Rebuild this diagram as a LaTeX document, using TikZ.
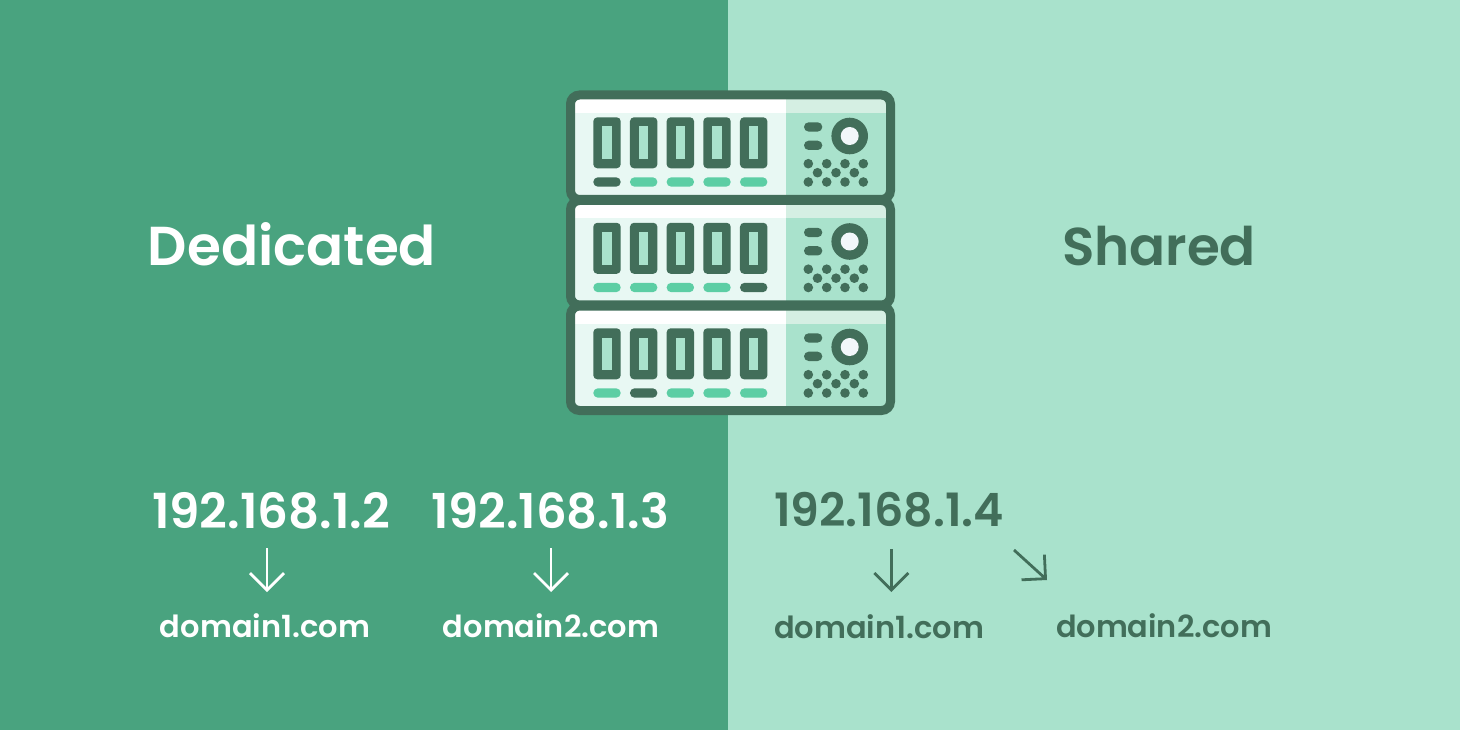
\documentclass[tikz,border=0pt]{standalone}
\usepackage{fontspec}
\usetikzlibrary{arrows.meta}
\setmainfont{Poppins}[UprightFont={* Medium},BoldFont={* SemiBold}]
\definecolor{leftbg}{HTML}{49A37F}
\definecolor{rightbg}{HTML}{A9E2CC}
\definecolor{ink}{HTML}{426E5A}
\definecolor{led}{HTML}{5CCEA4}
\definecolor{paneA}{HTML}{E8F8F3}
\definecolor{paneB}{HTML}{D5EFE3}
\definecolor{hole}{HTML}{F2F7FA}
\newcommand{\fitw}[2]{\resizebox{#1pt}{!}{#2}}
\tikzset{
  x=1pt,y=-1pt,
  lbl/.style={anchor=base,inner sep=0pt,outer sep=0pt},
  title/.style={lbl,font=\bfseries\fontsize{60}{60}\selectfont},
  ip/.style={lbl,font=\bfseries\fontsize{44}{44}\selectfont},
  dom/.style={lbl,font=\bfseries\fontsize{32}{32}\selectfont},
  barb/.style={line width=2.8pt,-{Straight Barb[length=17pt,width=34pt,line width=2.8pt]}},
}
\newcommand{\srv}[4]{% y offset, dark led index
\begin{scope}[yshift=-#1pt]
  \fill[paneA] (570,95) rectangle (786,199.5);
  \fill[white] (570,95) rectangle (786,113);
  \fill[rightbg] (786,95) rectangle (890.5,199.5);
  \fill[paneB] (786,95) rectangle (890.5,113);
  \draw[ink,line width=9pt,rounded corners=9pt] (570.5,95) rectangle (890.5,199.5);
  \foreach \i in {0,1,2,3,4}{
    \pgfmathsetmacro\xx{593.3+36.67*\i}
    \fill[ink,rounded corners=4pt] (\xx,117.3) rectangle (\xx+27.4,168.3);
    \fill[rightbg] (\xx+9,126.5) rectangle (\xx+18.4,159.2);
    \pgfmathtruncatemacro\on{\i==#2?1:0}
    \ifnum\on=1 \fill[ink,rounded corners=4.6pt] (\xx,177.3) rectangle (\xx+27.4,186.7);
    \else \fill[led,rounded corners=4.6pt] (\xx,177.3) rectangle (\xx+27.4,186.7);\fi
  }
  \fill[ink,rounded corners=4.6pt] (804,122.3) rectangle (822.3,131.6);
  \fill[ink,rounded corners=4.6pt] (804,140.7) rectangle (822.3,150);
  \fill[ink] (849.7,136) circle[radius=18.3pt];
  \fill[hole] (849.7,136) circle[radius=9pt];
  \foreach \xx in {808.3,826.7,845,863.3}{
    \fill[ink] (\xx,163.7) circle[radius=4.8pt];
    \fill[ink] (\xx,182) circle[radius=4.8pt];
  }
  \foreach \xx in {817.5,836,854.3}{
    \fill[ink] (\xx,172.7) circle[radius=4.8pt];
  }
\end{scope}}
\begin{document}
\begin{tikzpicture}
\useasboundingbox (0,0) rectangle (1460,730);
\fill[leftbg] (0,0) rectangle (728,730);
\fill[rightbg] (728,0) rectangle (1460,730);
\srv{0}{0}{}{}
\srv{105.5}{4}{}{}
\srv{211}{1}{}{}
\node[title,text=white] (ded) at (292,265.5) {\fitw{288}{Dedicated}};
\node[title,text=ink] (sha) at (1159,265.5) {\fitw{194}{Shared}};
\node[ip,text=white] (ipa) at (271,528) {\fitw{238}{192.168.1.2}};
\node[ip,text=white] (ipb) at (550,528) {\fitw{238}{192.168.1.3}};
\node[ip,text=ink] (ipc) at (889,526) {\fitw{230}{192.168.1.4}};
\node[dom,text=white] (doma) at (265,637) {\fitw{210}{domain1.com}};
\node[dom,text=white] (domb) at (551,637) {\fitw{216}{domain2.com}};
\node[dom,text=ink] (domc) at (879,638) {\fitw{210}{domain1.com}};
\node[dom,text=ink] (domd) at (1164,637) {\fitw{216}{domain2.com}};
\coordinate (a1) at (267,548); \coordinate (a2) at (267,592);
\coordinate (b1) at (551,548); \coordinate (b2) at (551,592);
\coordinate (c1) at (891.3,549); \coordinate (c2) at (891.3,592);
\coordinate (d1) at (1014,550); \coordinate (d2) at (1047,580);
\draw[barb,white] (a1) -- (a2);
\draw[barb,white] (b1) -- (b2);
\draw[barb,ink] (c1) -- (c2);
\draw[barb,ink] (d1) -- (d2);
\end{tikzpicture}
\end{document}
